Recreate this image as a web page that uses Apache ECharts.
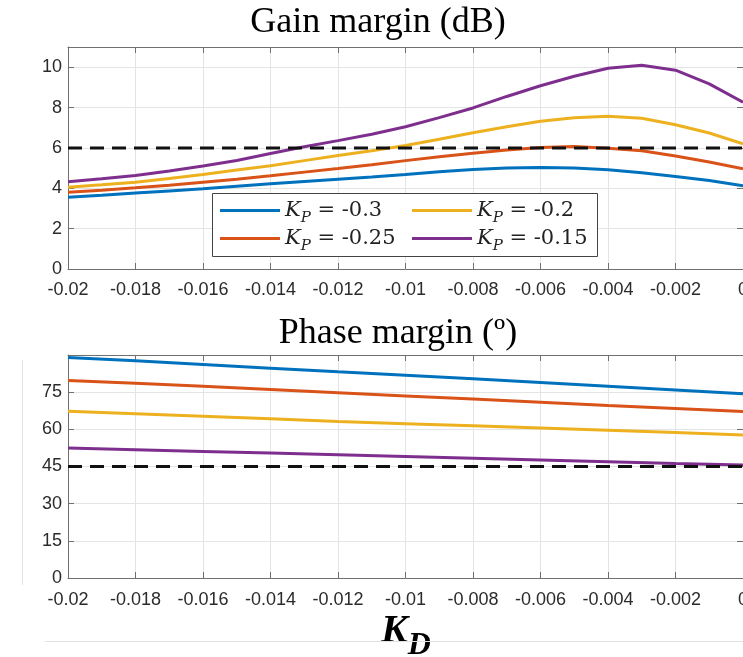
<!DOCTYPE html>
<html><head><meta charset="utf-8">
<script src="https://cdn.jsdelivr.net/npm/echarts@6/dist/echarts.min.js"></script>
<style>html,body{margin:0;padding:0;background:#fff;overflow:hidden}#c{width:743px;height:657px}</style>
</head><body><div id="c"></div>
<script>
// ---- data ----
const kdGain = [-0.02,-0.019,-0.018,-0.017,-0.016,-0.015,-0.014,-0.013,-0.012,-0.011,-0.01,-0.009,-0.008,-0.007,-0.006,-0.005,-0.004,-0.003,-0.002,-0.001,0];
const gainKp030 = [3.55,3.65,3.76,3.87,3.98,4.10,4.22,4.34,4.45,4.56,4.68,4.82,4.93,5.00,5.03,5.00,4.92,4.77,4.58,4.38,4.13];
const gainKp025 = [3.80,3.90,4.02,4.15,4.30,4.45,4.62,4.80,4.98,5.17,5.37,5.56,5.73,5.90,6.02,6.07,5.98,5.86,5.60,5.30,4.97];
const gainKp020 = [4.05,4.17,4.30,4.48,4.68,4.90,5.12,5.37,5.62,5.86,6.12,6.43,6.75,7.05,7.32,7.50,7.57,7.47,7.15,6.74,6.20];
const gainKp015 = [4.32,4.47,4.63,4.86,5.10,5.38,5.72,6.06,6.36,6.68,7.05,7.50,7.98,8.55,9.08,9.55,9.95,10.10,9.85,9.17,8.26];
const gainLimit = 6;

const kdPhase = [-0.02,-0.018,-0.016,-0.014,-0.012,-0.01,-0.008,-0.006,-0.004,-0.002,0];
const phaseKp030 = [89.0,87.7,86.2,84.7,83.2,81.8,80.4,78.9,77.4,75.9,74.4];
const phaseKp025 = [79.7,78.6,77.4,76.1,74.8,73.5,72.2,70.9,69.6,68.4,67.2];
const phaseKp020 = [67.3,66.3,65.3,64.3,63.2,62.3,61.4,60.5,59.6,58.7,57.7];
const phaseKp015 = [52.5,51.8,51.1,50.4,49.7,49.0,48.3,47.6,46.9,46.2,45.6];
const phaseLimit = 45;

const kpNames = ['-0.3','-0.25','-0.2','-0.15'];
const colors = ['#0072BD','#D95319','#EDB120','#7E2F8E'];
const titles = ['Gain margin (dB)','Phase margin (º)'];

// ---- chart ----
const chart = echarts.init(document.getElementById('c'), null, {renderer:'canvas'});
const pair = (xs, ys) => xs.map((x,i)=>[x, ys[i]]);
const tickFont = {fontFamily:'"Liberation Sans", Arial, sans-serif', fontSize:18, color:'#2b2b2b'};
const axisCol = '#707070';

function xAx(grid, pos, labels, margin){
  return {type:'value', gridIndex:grid, position:pos, min:-0.02, max:0, interval:0.002,
    axisLine:{show:true, onZero:false, lineStyle:{color:axisCol, width:1}},
    axisTick:{show:true, inside:true, length:6, lineStyle:{color:axisCol}},
    splitLine:{show:labels, lineStyle:{color:'#e4e4e4', width:1}},
    axisLabel:{show:labels, margin:margin, ...tickFont, formatter:v=>String(+(+v).toFixed(4))}};
}
function yAx(grid, pos, labels, max, interval){
  return {type:'value', gridIndex:grid, position:pos, min:0, max:max, interval:interval,
    axisLine:{show:true, onZero:false, lineStyle:{color:axisCol, width:1}},
    axisTick:{show:true, inside:true, length:6, lineStyle:{color:axisCol}},
    splitLine:{show:labels, lineStyle:{color:'#e4e4e4', width:1}},
    axisLabel:{show:labels, margin:6, showMaxLabel:false, ...tickFont}};
}

const gainSets = [gainKp030, gainKp025, gainKp020, gainKp015];
const phaseSets = [phaseKp030, phaseKp025, phaseKp020, phaseKp015];
const series = [];
gainSets.forEach((d,i)=>series.push({name:kpNames[i], type:'line', xAxisIndex:0, yAxisIndex:0,
  data:pair(kdGain,d), showSymbol:false, symbol:'none', lineStyle:{width:3,color:colors[i]}, itemStyle:{color:colors[i]}, z:2}));
series.push({name:'gainLimit', type:'line', xAxisIndex:0, yAxisIndex:0, data:[[-0.02,gainLimit],[0,gainLimit]],
  symbol:'none', lineStyle:{width:3, color:'#111', type:[14,8]}, z:3});
phaseSets.forEach((d,i)=>series.push({name:kpNames[i], type:'line', xAxisIndex:2, yAxisIndex:2,
  data:pair(kdPhase,d), showSymbol:false, symbol:'none', lineStyle:{width:3,color:colors[i]}, itemStyle:{color:colors[i]}, z:2}));
series.push({name:'phaseLimit', type:'line', xAxisIndex:2, yAxisIndex:2, data:[[-0.02,phaseLimit],[0,phaseLimit]],
  symbol:'none', lineStyle:{width:3, color:'#111', type:[14,8]}, z:3});

const legSerif = '"DejaVu Serif", "Liberation Serif", serif';
const legRich = {
  k:{fontFamily:legSerif, fontStyle:'italic', fontSize:21, color:'#222'},
  p:{fontFamily:legSerif, fontStyle:'italic', fontSize:15, color:'#222', padding:[15,0,0,0]},
  t:{fontFamily:legSerif, fontSize:21, color:'#222'}
};
function leg(name, left, top){
  return {data:[name], left:left, top:top, padding:0, itemWidth:60, itemHeight:3, icon:'rect', z:6,
    formatter:n=>'{k|K}{p|P}{t| = '+n+'}', textStyle:{rich:legRich}, selectedMode:false};
}

const serif = '"Liberation Serif", "Times New Roman", serif';
chart.setOption({
  animation:false,
  backgroundColor:'#fff',
  grid:[{left:68, top:47, width:675, height:222, outerBoundsMode:'none', containLabel:false},
        {left:68, top:355, width:675, height:223, outerBoundsMode:'none', containLabel:false}],
  xAxis:[xAx(0,'bottom',true,12), xAx(0,'top',false,0), xAx(1,'bottom',true,13), xAx(1,'top',false,0)],
  yAxis:[yAx(0,'left',true,11,2), yAx(0,'right',false,11,2), yAx(1,'left',true,90,15), yAx(1,'right',false,90,15)],
  legend:[leg(kpNames[0],220,200), leg(kpNames[1],220,228), leg(kpNames[2],412,200), leg(kpNames[3],412,228)],
  series:series,
  graphic:[
    {type:'rect', z:5, shape:{x:212.5, y:193.5, width:385, height:63}, style:{fill:'#fff', stroke:'#444', lineWidth:1}},
    {type:'text', x:378, y:23, style:{text:titles[0], font:'36px '+serif, fill:'#000', align:'center', verticalAlign:'middle'}},
    {type:'text', x:398, y:334, style:{text:titles[1], font:'36px '+serif, fill:'#000', align:'center', verticalAlign:'middle'}},
    {type:'text', x:406, y:632, style:{text:'{k|K}{d|D}', align:'center', verticalAlign:'middle',
      rich:{k:{fontFamily:serif, fontStyle:'italic', fontWeight:'bold', fontSize:40, fill:'#000', color:'#000'},
            d:{fontFamily:serif, fontStyle:'italic', fontWeight:'bold', fontSize:32, fill:'#000', color:'#000', padding:[28,0,0,0]}}}},
    {type:'line', shape:{x1:22.5, y1:360, x2:22.5, y2:585}, style:{stroke:'#e2e2e2', lineWidth:1}},
    {type:'line', shape:{x1:45, y1:641.5, x2:743, y2:641.5}, style:{stroke:'#e2e2e2', lineWidth:1}}
  ]
});
</script></body></html>
